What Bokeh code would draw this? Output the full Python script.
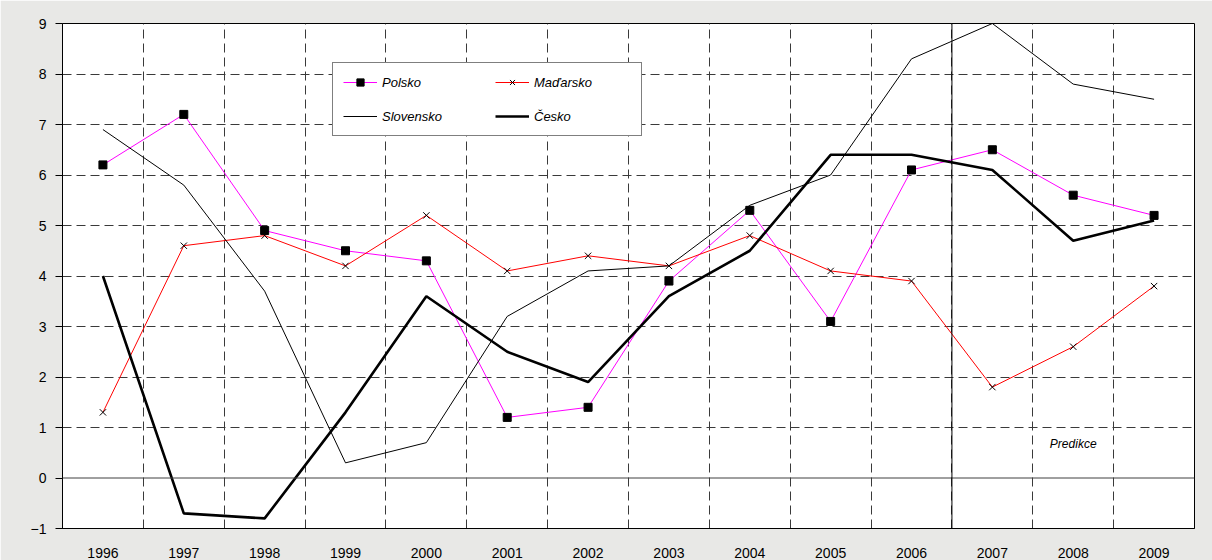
from bokeh.plotting import figure
from bokeh.models import (Legend, LegendItem, Span, Label, FixedTicker, Range1d)
from bokeh.embed import file_html
from bokeh.resources import INLINE

years = [1996, 1997, 1998, 1999, 2000, 2001, 2002, 2003, 2004, 2005, 2006, 2007, 2008, 2009]
polsko = [6.2, 7.2, 4.9, 4.5, 4.3, 1.2, 1.4, 3.9, 5.3, 3.1, 6.1, 6.5, 5.6, 5.2]
madarsko = [1.3, 4.6, 4.8, 4.2, 5.2, 4.1, 4.4, 4.2, 4.8, 4.1, 3.9, 1.8, 2.6, 3.8]
slovensko = [6.9, 5.8, 3.7, 0.3, 0.7, 3.2, 4.1, 4.2, 5.4, 6.0, 8.3, 9.0, 7.8, 7.5]
cesko = [4.0, -0.7, -0.8, 1.3, 3.6, 2.5, 1.9, 3.6, 4.5, 6.4, 6.4, 6.1, 4.7, 5.1]
y_ticks = [-1, 0, 1, 2, 3, 4, 5, 6, 7, 8, 9]
first_forecast_year = 2007
forecast_label = "Predikce"

FONT = "Liberation Sans"
GRID = "#3a3a3a"

p = figure(width=1212, height=560, output_backend="svg", toolbar_location=None,
           x_range=Range1d(years[0] - 0.5, years[-1] + 0.5),
           y_range=Range1d(y_ticks[0], y_ticks[-1]),
           min_border_left=62, min_border_right=18, min_border_top=23, min_border_bottom=32)

p.background_fill_color = "white"
p.border_fill_color = "#e8e8e6"
p.outline_line_color = "black"
p.outline_line_width = 1

# axes
p.xaxis.ticker = FixedTicker(ticks=years)
p.xaxis.major_tick_line_color = None
p.xaxis.minor_tick_line_color = None
p.xaxis.axis_line_color = "black"
p.xaxis.major_label_text_font = FONT
p.xaxis.major_label_text_font_size = "14px"
p.xaxis.major_label_text_color = "black"
p.xaxis.major_label_standoff = 13

p.yaxis.ticker = FixedTicker(ticks=y_ticks)
p.yaxis.minor_tick_line_color = None
p.yaxis.major_tick_in = 0
p.yaxis.major_tick_out = 7
p.yaxis.major_tick_line_color = "black"
p.yaxis.axis_line_color = "black"
p.yaxis.major_label_text_font = FONT
p.yaxis.major_label_text_font_size = "14px"
p.yaxis.major_label_text_color = "black"
p.yaxis.major_label_standoff = 9

# grids
p.xgrid.ticker = FixedTicker(ticks=[y + 0.5 for y in years[:-1]])
p.xgrid.grid_line_color = GRID
p.xgrid.grid_line_dash = "9 5"
p.xgrid.grid_line_width = 1
p.ygrid.ticker = FixedTicker(ticks=[t for t in y_ticks if t != 0])
p.ygrid.grid_line_color = GRID
p.ygrid.grid_line_dash = "9 5"
p.ygrid.grid_line_width = 1

p.add_layout(Span(location=0, dimension="width", line_color="#404040", line_width=1))
p.add_layout(Span(location=first_forecast_year - 0.5, dimension="height",
                  line_color="black", line_width=1))
p.add_layout(Label(x=first_forecast_year + 1, y=0.67, text=forecast_label,
                   text_align="center", text_baseline="middle",
                   text_font=FONT, text_font_style="italic", text_font_size="12px",
                   text_color="black"))

# series
r_pl_l = p.line(years, polsko, line_color="#ff00ff", line_width=1)
r_pl_m = p.scatter(years, polsko, marker="square", size=8, fill_color="black", line_color="black")
r_hu_l = p.line(years, madarsko, line_color="#ff0000", line_width=1)
r_hu_m = p.scatter(years, madarsko, marker="x", size=9, line_color="black", line_width=1)
r_sk = p.line(years, slovensko, line_color="black", line_width=1)
r_cz = p.line(years, cesko, line_color="black", line_width=2.6)

legend = Legend(items=[
    LegendItem(label="Polsko", renderers=[r_pl_l, r_pl_m]),
    LegendItem(label="Slovensko", renderers=[r_sk]),
    LegendItem(label="Maďarsko", renderers=[r_hu_l, r_hu_m]),
    LegendItem(label="Česko", renderers=[r_cz]),
], ncols=2, location=(270, 392))
legend.background_fill_color = "white"
legend.background_fill_alpha = 1
legend.border_line_color = "black"
legend.border_line_width = 1
legend.label_text_font = FONT
legend.label_text_font_style = "italic"
legend.label_text_font_size = "13px"
legend.label_text_color = "black"
legend.glyph_width = 34
legend.glyph_height = 18
legend.label_height = 18
legend.label_width = 97
legend.label_standoff = 5
legend.spacing = 16
legend.padding = 10
legend.margin = 0
p.add_layout(legend, "center")

open("out.html", "w").write(file_html(p, INLINE))
